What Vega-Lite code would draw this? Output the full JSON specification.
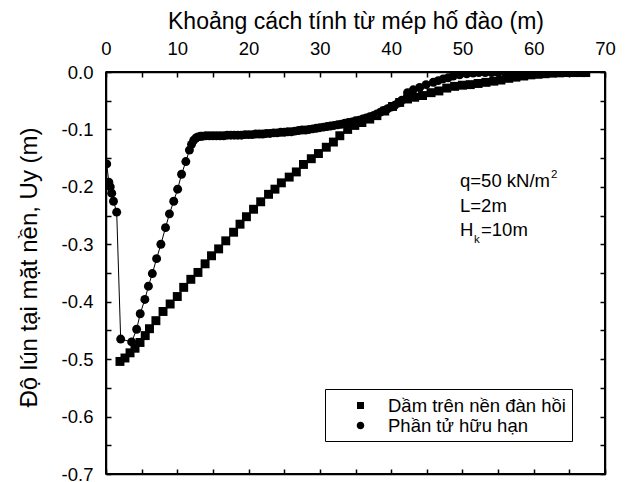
{
  "$schema": "https://vega.github.io/schema/vega-lite/v6.json",
  "width": 499,
  "height": 402,
  "autosize": {"type": "none"},
  "padding": {"left": 106, "top": 72, "right": 22, "bottom": 8},
  "background": "white",
  "config": {
    "view": {"stroke": "black", "strokeWidth": 1.5},
    "font": "Liberation Sans",
    "axis": {
      "grid": false,
      "domainColor": "black",
      "domainWidth": 1.5,
      "tickColor": "black",
      "tickWidth": 1.5,
      "labelColor": "black",
      "titleColor": "black",
      "titleFontWeight": "normal",
      "labelFontSize": 18.5,
      "titleFontSize": 23,
      "labelFlush": false,
      "labelOverlap": false
    }
  },
  "data": {
    "values": [
      {"s": "Dầm trên nền đàn hồi", "x": 1.96, "y": -0.504},
      {"s": "Dầm trên nền đàn hồi", "x": 2.66, "y": -0.498},
      {"s": "Dầm trên nền đàn hồi", "x": 3.37, "y": -0.489},
      {"s": "Dầm trên nền đàn hồi", "x": 4.07, "y": -0.481},
      {"s": "Dầm trên nền đàn hồi", "x": 4.77, "y": -0.471},
      {"s": "Dầm trên nền đàn hồi", "x": 5.5, "y": -0.459},
      {"s": "Dầm trên nền đàn hồi", "x": 6.1, "y": -0.447},
      {"s": "Dầm trên nền đàn hồi", "x": 7.0, "y": -0.433},
      {"s": "Dầm trên nền đàn hồi", "x": 8.0, "y": -0.417},
      {"s": "Dầm trên nền đàn hồi", "x": 9.0, "y": -0.404},
      {"s": "Dầm trên nền đàn hồi", "x": 10.0, "y": -0.391},
      {"s": "Dầm trên nền đàn hồi", "x": 10.9, "y": -0.375},
      {"s": "Dầm trên nền đàn hồi", "x": 11.9, "y": -0.361},
      {"s": "Dầm trên nền đàn hồi", "x": 12.9, "y": -0.349},
      {"s": "Dầm trên nền đàn hồi", "x": 13.9, "y": -0.334},
      {"s": "Dầm trên nền đàn hồi", "x": 14.8, "y": -0.320},
      {"s": "Dầm trên nền đàn hồi", "x": 15.8, "y": -0.308},
      {"s": "Dầm trên nền đàn hồi", "x": 16.8, "y": -0.294},
      {"s": "Dầm trên nền đàn hồi", "x": 17.9, "y": -0.279},
      {"s": "Dầm trên nền đàn hồi", "x": 18.8, "y": -0.265},
      {"s": "Dầm trên nền đàn hồi", "x": 19.7, "y": -0.252},
      {"s": "Dầm trên nền đàn hồi", "x": 20.7, "y": -0.239},
      {"s": "Dầm trên nền đàn hồi", "x": 21.7, "y": -0.226},
      {"s": "Dầm trên nền đàn hồi", "x": 22.8, "y": -0.213},
      {"s": "Dầm trên nền đàn hồi", "x": 23.7, "y": -0.204},
      {"s": "Dầm trên nền đàn hồi", "x": 24.6, "y": -0.193},
      {"s": "Dầm trên nền đàn hồi", "x": 25.7, "y": -0.183},
      {"s": "Dầm trên nền đàn hồi", "x": 26.7, "y": -0.174},
      {"s": "Dầm trên nền đàn hồi", "x": 27.7, "y": -0.161},
      {"s": "Dầm trên nền đàn hồi", "x": 28.8, "y": -0.151},
      {"s": "Dầm trên nền đàn hồi", "x": 29.8, "y": -0.142},
      {"s": "Dầm trên nền đàn hồi", "x": 30.9, "y": -0.131},
      {"s": "Dầm trên nền đàn hồi", "x": 31.9, "y": -0.122},
      {"s": "Dầm trên nền đàn hồi", "x": 32.8, "y": -0.111},
      {"s": "Dầm trên nền đàn hồi", "x": 33.9, "y": -0.100},
      {"s": "Dầm trên nền đàn hồi", "x": 34.9, "y": -0.093},
      {"s": "Dầm trên nền đàn hồi", "x": 35.9, "y": -0.088},
      {"s": "Dầm trên nền đàn hồi", "x": 37.0, "y": -0.082},
      {"s": "Dầm trên nền đàn hồi", "x": 38.0, "y": -0.076},
      {"s": "Dầm trên nền đàn hồi", "x": 39.1, "y": -0.068},
      {"s": "Dầm trên nền đàn hồi", "x": 40.2, "y": -0.060},
      {"s": "Dầm trên nền đàn hồi", "x": 41.2, "y": -0.053},
      {"s": "Dầm trên nền đàn hồi", "x": 42.3, "y": -0.047},
      {"s": "Dầm trên nền đàn hồi", "x": 43.3, "y": -0.044},
      {"s": "Dầm trên nền đàn hồi", "x": 44.4, "y": -0.041},
      {"s": "Dầm trên nền đàn hồi", "x": 45.6, "y": -0.036},
      {"s": "Dầm trên nền đàn hồi", "x": 46.7, "y": -0.033},
      {"s": "Dầm trên nền đàn hồi", "x": 47.8, "y": -0.028},
      {"s": "Dầm trên nền đàn hồi", "x": 48.9, "y": -0.025},
      {"s": "Dầm trên nền đàn hồi", "x": 50.0, "y": -0.023},
      {"s": "Dầm trên nền đàn hồi", "x": 51.1, "y": -0.022},
      {"s": "Dầm trên nền đàn hồi", "x": 52.2, "y": -0.020},
      {"s": "Dầm trên nền đàn hồi", "x": 53.3, "y": -0.018},
      {"s": "Dầm trên nền đàn hồi", "x": 54.4, "y": -0.016},
      {"s": "Dầm trên nền đàn hồi", "x": 55.4, "y": -0.014},
      {"s": "Dầm trên nền đàn hồi", "x": 56.5, "y": -0.011},
      {"s": "Dầm trên nền đàn hồi", "x": 57.5, "y": -0.009},
      {"s": "Dầm trên nền đàn hồi", "x": 58.6, "y": -0.007},
      {"s": "Dầm trên nền đàn hồi", "x": 59.6, "y": -0.005},
      {"s": "Dầm trên nền đàn hồi", "x": 60.6, "y": -0.004},
      {"s": "Dầm trên nền đàn hồi", "x": 61.6, "y": -0.003},
      {"s": "Dầm trên nền đàn hồi", "x": 62.6, "y": -0.002},
      {"s": "Dầm trên nền đàn hồi", "x": 63.6, "y": -0.0015},
      {"s": "Dầm trên nền đàn hồi", "x": 64.6, "y": -0.001},
      {"s": "Dầm trên nền đàn hồi", "x": 65.6, "y": -0.001},
      {"s": "Dầm trên nền đàn hồi", "x": 66.6, "y": -0.001},
      {"s": "Dầm trên nền đàn hồi", "x": 67.3, "y": -0.001},
      {"s": "Phần tử hữu hạn", "x": 0.1, "y": -0.160},
      {"s": "Phần tử hữu hạn", "x": 0.4, "y": -0.192},
      {"s": "Phần tử hữu hạn", "x": 0.6, "y": -0.200},
      {"s": "Phần tử hữu hạn", "x": 0.8, "y": -0.211},
      {"s": "Phần tử hữu hạn", "x": 1.05, "y": -0.225},
      {"s": "Phần tử hữu hạn", "x": 1.5, "y": -0.244},
      {"s": "Phần tử hữu hạn", "x": 2.06, "y": -0.465},
      {"s": "Phần tử hữu hạn", "x": 3.6, "y": -0.470},
      {"s": "Phần tử hữu hạn", "x": 4.3, "y": -0.448},
      {"s": "Phần tử hữu hạn", "x": 4.8, "y": -0.421},
      {"s": "Phần tử hữu hạn", "x": 5.45, "y": -0.396},
      {"s": "Phần tử hữu hạn", "x": 5.95, "y": -0.373},
      {"s": "Phần tử hữu hạn", "x": 6.5, "y": -0.351},
      {"s": "Phần tử hữu hạn", "x": 7.1, "y": -0.325},
      {"s": "Phần tử hữu hạn", "x": 7.7, "y": -0.300},
      {"s": "Phần tử hữu hạn", "x": 8.35, "y": -0.271},
      {"s": "Phần tử hữu hạn", "x": 8.9, "y": -0.247},
      {"s": "Phần tử hữu hạn", "x": 9.5, "y": -0.225},
      {"s": "Phần tử hữu hạn", "x": 10.05, "y": -0.204},
      {"s": "Phần tử hữu hạn", "x": 10.6, "y": -0.178},
      {"s": "Phần tử hữu hạn", "x": 11.2, "y": -0.156},
      {"s": "Phần tử hữu hạn", "x": 11.7, "y": -0.136},
      {"s": "Phần tử hữu hạn", "x": 12.0, "y": -0.126},
      {"s": "Phần tử hữu hạn", "x": 12.3, "y": -0.119},
      {"s": "Phần tử hữu hạn", "x": 12.6, "y": -0.115},
      {"s": "Phần tử hữu hạn", "x": 12.9, "y": -0.113},
      {"s": "Phần tử hữu hạn", "x": 13.25, "y": -0.112},
      {"s": "Phần tử hữu hạn", "x": 13.5, "y": -0.112},
      {"s": "Phần tử hữu hạn", "x": 14.0, "y": -0.111},
      {"s": "Phần tử hữu hạn", "x": 14.5, "y": -0.111},
      {"s": "Phần tử hữu hạn", "x": 15.0, "y": -0.111},
      {"s": "Phần tử hữu hạn", "x": 15.5, "y": -0.111},
      {"s": "Phần tử hữu hạn", "x": 16.0, "y": -0.111},
      {"s": "Phần tử hữu hạn", "x": 16.5, "y": -0.111},
      {"s": "Phần tử hữu hạn", "x": 17.0, "y": -0.110},
      {"s": "Phần tử hữu hạn", "x": 17.5, "y": -0.110},
      {"s": "Phần tử hữu hạn", "x": 18.0, "y": -0.110},
      {"s": "Phần tử hữu hạn", "x": 18.5, "y": -0.110},
      {"s": "Phần tử hữu hạn", "x": 19.0, "y": -0.110},
      {"s": "Phần tử hữu hạn", "x": 19.5, "y": -0.109},
      {"s": "Phần tử hữu hạn", "x": 20.0, "y": -0.109},
      {"s": "Phần tử hữu hạn", "x": 20.5, "y": -0.109},
      {"s": "Phần tử hữu hạn", "x": 21.0, "y": -0.108},
      {"s": "Phần tử hữu hạn", "x": 21.5, "y": -0.108},
      {"s": "Phần tử hữu hạn", "x": 22.0, "y": -0.108},
      {"s": "Phần tử hữu hạn", "x": 22.5, "y": -0.107},
      {"s": "Phần tử hữu hạn", "x": 23.0, "y": -0.107},
      {"s": "Phần tử hữu hạn", "x": 23.5, "y": -0.106},
      {"s": "Phần tử hữu hạn", "x": 24.0, "y": -0.106},
      {"s": "Phần tử hữu hạn", "x": 24.5, "y": -0.105},
      {"s": "Phần tử hữu hạn", "x": 25.0, "y": -0.105},
      {"s": "Phần tử hữu hạn", "x": 25.5, "y": -0.104},
      {"s": "Phần tử hữu hạn", "x": 26.0, "y": -0.104},
      {"s": "Phần tử hữu hạn", "x": 26.5, "y": -0.103},
      {"s": "Phần tử hữu hạn", "x": 27.0, "y": -0.102},
      {"s": "Phần tử hữu hạn", "x": 27.5, "y": -0.101},
      {"s": "Phần tử hữu hạn", "x": 28.0, "y": -0.101},
      {"s": "Phần tử hữu hạn", "x": 28.5, "y": -0.100},
      {"s": "Phần tử hữu hạn", "x": 29.0, "y": -0.099},
      {"s": "Phần tử hữu hạn", "x": 29.5, "y": -0.098},
      {"s": "Phần tử hữu hạn", "x": 30.0, "y": -0.097},
      {"s": "Phần tử hữu hạn", "x": 30.5, "y": -0.096},
      {"s": "Phần tử hữu hạn", "x": 31.0, "y": -0.095},
      {"s": "Phần tử hữu hạn", "x": 31.5, "y": -0.094},
      {"s": "Phần tử hữu hạn", "x": 32.0, "y": -0.093},
      {"s": "Phần tử hữu hạn", "x": 32.5, "y": -0.092},
      {"s": "Phần tử hữu hạn", "x": 33.0, "y": -0.091},
      {"s": "Phần tử hữu hạn", "x": 33.5, "y": -0.089},
      {"s": "Phần tử hữu hạn", "x": 34.0, "y": -0.088},
      {"s": "Phần tử hữu hạn", "x": 34.5, "y": -0.087},
      {"s": "Phần tử hữu hạn", "x": 35.0, "y": -0.085},
      {"s": "Phần tử hữu hạn", "x": 35.5, "y": -0.084},
      {"s": "Phần tử hữu hạn", "x": 36.0, "y": -0.082},
      {"s": "Phần tử hữu hạn", "x": 36.5, "y": -0.080},
      {"s": "Phần tử hữu hạn", "x": 37.0, "y": -0.078},
      {"s": "Phần tử hữu hạn", "x": 37.5, "y": -0.076},
      {"s": "Phần tử hữu hạn", "x": 38.0, "y": -0.073},
      {"s": "Phần tử hữu hạn", "x": 38.5, "y": -0.070},
      {"s": "Phần tử hữu hạn", "x": 39.0, "y": -0.067},
      {"s": "Phần tử hữu hạn", "x": 39.5, "y": -0.064},
      {"s": "Phần tử hữu hạn", "x": 40.0, "y": -0.061},
      {"s": "Phần tử hữu hạn", "x": 40.5, "y": -0.058},
      {"s": "Phần tử hữu hạn", "x": 41.0, "y": -0.054},
      {"s": "Phần tử hữu hạn", "x": 41.5, "y": -0.049},
      {"s": "Phần tử hữu hạn", "x": 42.3, "y": -0.036},
      {"s": "Phần tử hữu hạn", "x": 43.1, "y": -0.031},
      {"s": "Phần tử hữu hạn", "x": 44.0, "y": -0.027},
      {"s": "Phần tử hữu hạn", "x": 44.9, "y": -0.022},
      {"s": "Phần tử hữu hạn", "x": 45.9, "y": -0.018},
      {"s": "Phần tử hữu hạn", "x": 46.6, "y": -0.015},
      {"s": "Phần tử hữu hạn", "x": 47.3, "y": -0.012},
      {"s": "Phần tử hữu hạn", "x": 48.0, "y": -0.010},
      {"s": "Phần tử hữu hạn", "x": 48.7, "y": -0.007},
      {"s": "Phần tử hữu hạn", "x": 49.6, "y": -0.005},
      {"s": "Phần tử hữu hạn", "x": 50.6, "y": -0.003},
      {"s": "Phần tử hữu hạn", "x": 51.5, "y": -0.002},
      {"s": "Phần tử hữu hạn", "x": 52.3, "y": -0.001},
      {"s": "Phần tử hữu hạn", "x": 53.2, "y": -0.001},
      {"s": "Phần tử hữu hạn", "x": 54.1, "y": -0.001},
      {"s": "Phần tử hữu hạn", "x": 55.0, "y": -0.001},
      {"s": "Phần tử hữu hạn", "x": 56.0, "y": -0.001},
      {"s": "Phần tử hữu hạn", "x": 57.0, "y": -0.001},
      {"s": "Phần tử hữu hạn", "x": 58.0, "y": -0.001},
      {"s": "Phần tử hữu hạn", "x": 59.0, "y": -0.001},
      {"s": "Phần tử hữu hạn", "x": 60.0, "y": -0.001},
      {"s": "Phần tử hữu hạn", "x": 61.0, "y": -0.001},
      {"s": "Phần tử hữu hạn", "x": 62.0, "y": -0.001},
      {"s": "Phần tử hữu hạn", "x": 63.0, "y": -0.001},
      {"s": "Phần tử hữu hạn", "x": 64.0, "y": -0.001},
      {"s": "Phần tử hữu hạn", "x": 65.0, "y": -0.001},
      {"s": "Phần tử hữu hạn", "x": 66.0, "y": -0.001},
      {"s": "Phần tử hữu hạn", "x": 67.0, "y": -0.001}
    ]
  },
  "layer": [
    {
      "mark": {"type": "line", "color": "black", "strokeWidth": 1, "clip": true},
      "encoding": {
        "x": {
          "field": "x", "type": "quantitative",
          "scale": {"domain": [0, 70], "nice": false, "zero": false},
          "axis": {
            "orient": "top",
            "title": "Khoảng cách tính từ mép hố đào (m)",
            "values": [0, 5, 10, 15, 20, 25, 30, 35, 40, 45, 50, 55, 60, 65, 70],
            "labelExpr": "datum.value % 10 === 0 ? datum.label : ''",
            "tickSize": -5,
            "labelPadding": 19,
            "titlePadding": 6
          }
        },
        "y": {
          "field": "y", "type": "quantitative",
          "scale": {"domain": [-0.7, 0], "nice": false, "zero": false},
          "axis": {
            "orient": "left",
            "title": "Độ lún  tại mặt nền, Uy (m)",
            "titleFontSize": 24,
            "titleY": 195,
            "values": [0, -0.05, -0.1, -0.15, -0.2, -0.25, -0.3, -0.35, -0.4, -0.45, -0.5, -0.55, -0.6, -0.65, -0.7],
            "labelExpr": "round(datum.value*100) % 10 === 0 ? replace(format(datum.value, '.1f'), '\u2212', '-') : ''",
            "tickSize": -5,
            "labelPadding": 18,
            "titlePadding": 20
          }
        },
        "detail": {"field": "s", "type": "nominal"}
      }
    },
    {
      "mark": {"type": "point", "filled": true, "opacity": 1, "size": 80, "color": "black", "clip": true},
      "encoding": {
        "x": {
          "field": "x", "type": "quantitative",
          "axis": {
            "orient": "bottom", "title": null, "labels": false,
            "values": [0, 5, 10, 15, 20, 25, 30, 35, 40, 45, 50, 55, 60, 65, 70],
            "tickSize": -5
          }
        },
        "y": {
          "field": "y", "type": "quantitative",
          "axis": {
            "orient": "right", "title": null, "labels": false,
            "values": [0, -0.05, -0.1, -0.15, -0.2, -0.25, -0.3, -0.35, -0.4, -0.45, -0.5, -0.55, -0.6, -0.65, -0.7],
            "tickSize": -5
          }
        },
        "shape": {
          "field": "s", "type": "nominal",
          "scale": {"domain": ["Dầm trên nền đàn hồi", "Phần tử hữu hạn"], "range": ["square", "circle"]},
          "legend": null
        }
      }
    },
    {
      "transform": [{"filter": "datum.x < -100"}],
      "mark": {"type": "point", "filled": false, "fill": "black", "opacity": 1, "size": 400, "color": "black", "stroke": "black", "strokeWidth": 1},
      "encoding": {
        "x": {"field": "x", "type": "quantitative", "axis": null},
        "y": {"field": "y", "type": "quantitative", "axis": null},
        "shape": {
          "field": "s", "type": "nominal",
          "scale": {
            "domain": ["Dầm trên nền đàn hồi", "Phần tử hữu hạn"],
            "range": [
              "M-2.25,0H-0.5M-0.35,-0.35H0.35V0.35H-0.35ZM0.5,0H2.25",
              "M-2.25,0H-0.5M0.38,0A0.38,0.38,0,1,1,-0.38,0A0.38,0.38,0,1,1,0.38,0ZM0.5,0H2.25"
            ]
          },
          "legend": {
            "title": null,
            "orient": "none",
            "legendX": 219,
            "legendY": 317,
            "strokeColor": "black",
            "fillColor": "white",
            "padding": 6,
            "labelFontSize": 18.5,
            "labelColor": "black",
            "labelLimit": 400,
            "symbolSize": 400,
            "symbolOffset": 19,
            "labelOffset": 17,
            "rowPadding": 0,
            "symbolStrokeWidth": 1,
            "symbolStrokeColor": "black",
            "symbolFillColor": "black",
            "symbolOpacity": 1,
            "encode": {
              "symbols": {
                "update": {
                  "stroke": {"value": "black"},
                  "strokeWidth": {"value": 1}
                }
              }
            }
          }
        }
      }
    },
    {
      "data": {"values": [
        {"x": 49.66, "y": -0.201, "t": "q=50 kN/m"},
        {"x": 49.66, "y": -0.244, "t": "L=2m"},
        {"x": 49.66, "y": -0.285, "t": "H"}
      ]},
      "mark": {"type": "text", "align": "left", "baseline": "alphabetic", "fontSize": 18.5, "color": "black"},
      "encoding": {
        "x": {"field": "x", "type": "quantitative", "axis": null},
        "y": {"field": "y", "type": "quantitative", "axis": null},
        "text": {"field": "t"}
      }
    },
    {
      "data": {"values": [{"x": 49.66, "y": -0.201, "t": "2"}]},
      "mark": {"type": "text", "align": "left", "baseline": "alphabetic", "fontSize": 11.5, "color": "black", "dx": 91, "dy": -9},
      "encoding": {
        "x": {"field": "x", "type": "quantitative", "axis": null},
        "y": {"field": "y", "type": "quantitative", "axis": null},
        "text": {"field": "t"}
      }
    },
    {
      "data": {"values": [{"x": 49.66, "y": -0.285, "t": "k"}]},
      "mark": {"type": "text", "align": "left", "baseline": "alphabetic", "fontSize": 11.5, "color": "black", "dx": 14, "dy": 7.5},
      "encoding": {
        "x": {"field": "x", "type": "quantitative", "axis": null},
        "y": {"field": "y", "type": "quantitative", "axis": null},
        "text": {"field": "t"}
      }
    },
    {
      "data": {"values": [{"x": 49.66, "y": -0.285, "t": "=10m"}]},
      "mark": {"type": "text", "align": "left", "baseline": "alphabetic", "fontSize": 18.5, "color": "black", "dx": 21},
      "encoding": {
        "x": {"field": "x", "type": "quantitative", "axis": null},
        "y": {"field": "y", "type": "quantitative", "axis": null},
        "text": {"field": "t"}
      }
    },
    {
      "mark": {"type": "rule", "color": "black", "strokeWidth": 1.5},
      "encoding": {"x": {"datum": 0, "type": "quantitative", "axis": null}}
    },
    {
      "mark": {"type": "rule", "color": "black", "strokeWidth": 1.5},
      "encoding": {"x": {"datum": 70, "type": "quantitative", "axis": null}}
    },
    {
      "mark": {"type": "rule", "color": "black", "strokeWidth": 1.5},
      "encoding": {"y": {"datum": 0, "type": "quantitative", "axis": null}}
    },
    {
      "mark": {"type": "rule", "color": "black", "strokeWidth": 1.5},
      "encoding": {"y": {"datum": -0.7, "type": "quantitative", "axis": null}}
    }
  ],
  "resolve": {"axis": {"x": "independent", "y": "independent"}, "scale": {"shape": "independent"}}
}
